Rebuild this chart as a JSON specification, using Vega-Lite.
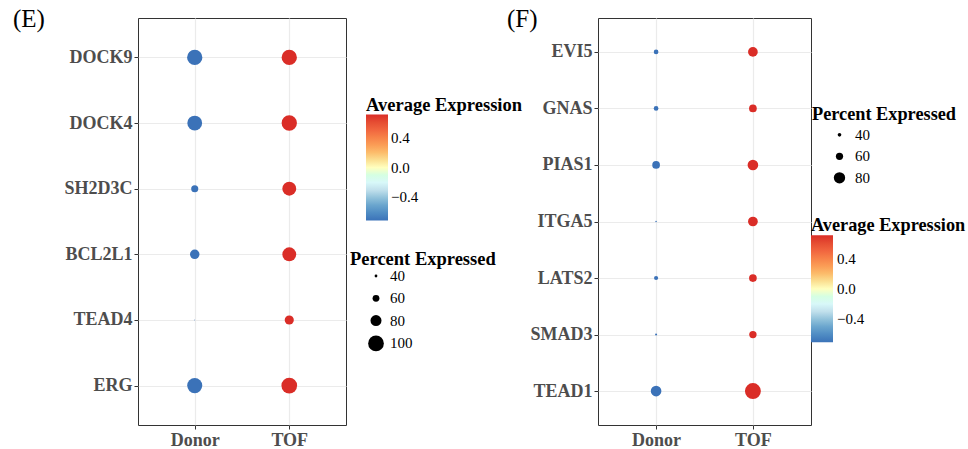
{
  "$schema": "https://vega.github.io/schema/vega-lite/v6.json",
  "padding": {"left": 12, "top": 6, "right": 0, "bottom": 0},
  "background": "white",
  "spacing": -18,
  "config": {
    "font": "Liberation Serif",
    "view": {"stroke": "#333333", "strokeWidth": 1},
    "axis": {"grid": true, "gridColor": "#EBEBEB", "gridWidth": 1.2, "domain": false, "tickColor": "#333333", "tickSize": 4, "labelFont": "Liberation Serif", "labelFontSize": 18, "labelFontWeight": "bold", "labelColor": "#4D4D4D", "labelPadding": 2},
    "legend": {"titleFont": "Liberation Serif", "titleFontSize": 18.5, "titleFontWeight": "bold", "titleColor": "black", "labelFont": "Liberation Serif", "labelFontSize": 15, "labelColor": "black", "titlePadding": 0, "titleLimit": 400}
  },
  "datasets": {
    "E": [
      {"gene": "DOCK9", "group": "Donor", "pct": 98.5, "avg": -0.7071},
      {"gene": "DOCK9", "group": "TOF", "pct": 98.5, "avg": 0.7071},
      {"gene": "DOCK4", "group": "Donor", "pct": 96.3, "avg": -0.7071},
      {"gene": "DOCK4", "group": "TOF", "pct": 98.5, "avg": 0.7071},
      {"gene": "SH2D3C", "group": "Donor", "pct": 61.4, "avg": -0.7071},
      {"gene": "SH2D3C", "group": "TOF", "pct": 92.6, "avg": 0.7071},
      {"gene": "BCL2L1", "group": "Donor", "pct": 72.9, "avg": -0.7071},
      {"gene": "BCL2L1", "group": "TOF", "pct": 92.6, "avg": 0.7071},
      {"gene": "TEAD4", "group": "Donor", "pct": 33.4, "avg": -0.7071},
      {"gene": "TEAD4", "group": "TOF", "pct": 71.2, "avg": 0.7071},
      {"gene": "ERG", "group": "Donor", "pct": 97.4, "avg": -0.7071},
      {"gene": "ERG", "group": "TOF", "pct": 100, "avg": 0.7071}
    ],
    "F": [
      {"gene": "EVI5", "group": "Donor", "pct": 46.0, "avg": -0.7071},
      {"gene": "EVI5", "group": "TOF", "pct": 72.5, "avg": 0.7071},
      {"gene": "GNAS", "group": "Donor", "pct": 46.0, "avg": -0.7071},
      {"gene": "GNAS", "group": "TOF", "pct": 62.4, "avg": 0.7071},
      {"gene": "PIAS1", "group": "Donor", "pct": 62.4, "avg": -0.7071},
      {"gene": "PIAS1", "group": "TOF", "pct": 76.7, "avg": 0.7071},
      {"gene": "ITGA5", "group": "Donor", "pct": 27.5, "avg": -0.7071},
      {"gene": "ITGA5", "group": "TOF", "pct": 72.5, "avg": 0.7071},
      {"gene": "LATS2", "group": "Donor", "pct": 43.0, "avg": -0.7071},
      {"gene": "LATS2", "group": "TOF", "pct": 62.4, "avg": 0.7071},
      {"gene": "SMAD3", "group": "Donor", "pct": 30.4, "avg": -0.7071},
      {"gene": "SMAD3", "group": "TOF", "pct": 60.6, "avg": 0.7071},
      {"gene": "TEAD1", "group": "Donor", "pct": 76.7, "avg": -0.7071},
      {"gene": "TEAD1", "group": "TOF", "pct": 100, "avg": 0.7071}
    ]
  },
  "hconcat": [
    {
      "width": 208,
      "height": 407,
      "title": {"text": "(E)", "anchor": "start", "frame": "group", "dx": -125, "offset": -14, "fontSize": 25, "fontWeight": "normal", "font": "Liberation Serif", "color": "black"},
      "data": {"name": "E"},
      "mark": {"type": "circle", "opacity": 1},
      "encoding": {
        "x": {"field": "group", "type": "nominal", "scale": {"type": "point", "padding": 0.6}, "axis": {"labelAngle": 0, "title": null}},
        "y": {"field": "gene", "type": "nominal", "sort": ["DOCK9", "DOCK4", "SH2D3C", "BCL2L1", "TEAD4", "ERG"], "scale": {"type": "point", "padding": 0.6}, "axis": {"title": null}},
        "size": {"field": "pct", "type": "quantitative", "title": "Percent Expressed",
          "scale": {"type": "pow", "exponent": 3, "domain": [32.4, 100], "range": [0, 246], "zero": false, "clamp": true},
          "legend": {"values": [40, 60, 80, 100], "orient": "none", "legendX": 212, "legendY": 232, "symbolOffset": 18, "labelOffset": 6, "rowPadding": 6.3, "labelFont": "Liberation Serif", "labelFontSize": 15, "symbolFillColor": "black", "symbolStrokeColor": "black", "symbolStrokeWidth": 0, "symbolOpacity": 1, "symbolType": "circle"}},
        "color": {"field": "avg", "type": "quantitative", "title": "Average Expression",
          "scale": {"domain": [-0.7071, 0.7071], "range": ["#3B72B8", "#74ADD1", "#E0F3F8", "#FFFFBF", "#FDAE61", "#F46D43", "#DA2D27"]},
          "legend": {"orient": "none", "legendX": 228, "legendY": 78, "values": [-0.4, 0, 0.4], "format": ".1f", "gradientLength": 106, "gradientThickness": 22, "gradientStrokeWidth": 0, "labelOffset": 3, "labelFont": "Liberation Serif", "labelFontSize": 15}}
      }
    },
    {
      "width": 213,
      "height": 407,
      "title": {"text": "(F)", "anchor": "start", "frame": "group", "dx": -91, "offset": -14, "fontSize": 25, "fontWeight": "normal", "font": "Liberation Serif", "color": "black"},
      "data": {"name": "F"},
      "mark": {"type": "circle", "opacity": 1},
      "encoding": {
        "x": {"field": "group", "type": "nominal", "scale": {"type": "point", "padding": 0.6}, "axis": {"labelAngle": 0, "title": null}},
        "y": {"field": "gene", "type": "nominal", "sort": ["EVI5", "GNAS", "PIAS1", "ITGA5", "LATS2", "SMAD3", "TEAD1"], "scale": {"type": "point", "padding": 0.6}, "axis": {"title": null}},
        "size": {"field": "pct", "type": "quantitative", "title": "Percent Expressed",
          "scale": {"type": "pow", "exponent": 3, "domain": [22.9, 100], "range": [0, 254], "zero": false, "clamp": true},
          "legend": {"values": [40, 60, 80], "orient": "none", "legendX": 214, "legendY": 88, "symbolOffset": 20, "labelOffset": 8, "rowPadding": 5.5, "titlePadding": 3, "titleFontSize": 18.3, "labelFont": "Liberation Serif", "labelFontSize": 15, "symbolFillColor": "black", "symbolStrokeColor": "black", "symbolStrokeWidth": 0, "symbolOpacity": 1, "symbolType": "circle"}},
        "color": {"field": "avg", "type": "quantitative", "title": "Average Expression",
          "scale": {"domain": [-0.7071, 0.7071], "range": ["#3B72B8", "#74ADD1", "#E0F3F8", "#FFFFBF", "#FDAE61", "#F46D43", "#DA2D27"]},
          "legend": {"orient": "none", "legendX": 213, "legendY": 199, "values": [-0.4, 0, 0.4], "format": ".1f", "gradientLength": 107, "gradientThickness": 22, "gradientStrokeWidth": 0, "labelOffset": 4, "titleFontSize": 18.3, "labelFont": "Liberation Serif", "labelFontSize": 15}}
      }
    }
  ],
  "resolve": {"scale": {"color": "independent", "size": "independent"}}
}
